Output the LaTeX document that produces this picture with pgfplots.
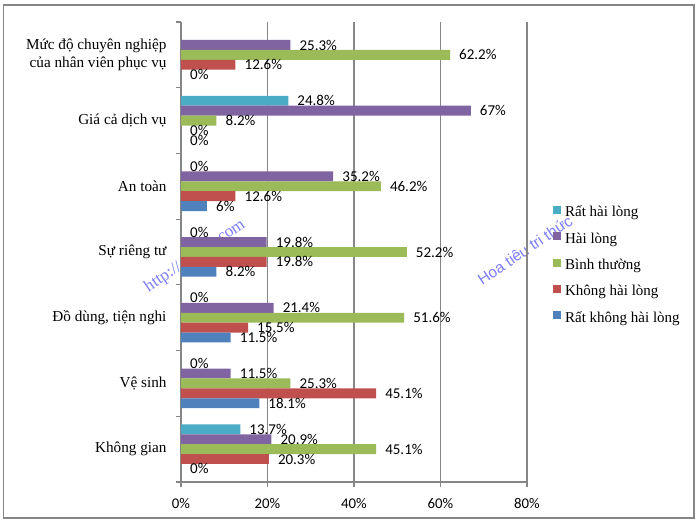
\documentclass[border=0pt]{standalone}
\usepackage{fontspec}
\setmainfont{Liberation Serif}
\newfontfamily\calib{Carlito}
\newfontfamily\wmsans{Liberation Sans}
\usepackage{pgfplots}
\pgfplotsset{compat=1.18}

\definecolor{cRHL}{RGB}{75,172,198}
\definecolor{cHL}{RGB}{128,100,162}
\definecolor{cBT}{RGB}{155,187,89}
\definecolor{cKHL}{RGB}{192,80,77}
\definecolor{cRKHL}{RGB}{79,129,189}
\definecolor{gridc}{RGB}{134,134,134}
\definecolor{wm}{RGB}{125,125,250}

\begin{document}
\begin{tikzpicture}[x=1bp,y=1bp]
\useasboundingbox (0,0) rectangle (700,526);
\fill[white] (0,0) rectangle (700,526);
% faint watermarks behind the plot
\node[text=wm, rotate=34, font=\fontsize{17bp}{17bp}\selectfont] at (195,270) {http:// ditiep.com};
\node[text=wm, rotate=34, font=\wmsans\fontsize{15.5bp}{16bp}\selectfont] at (525,276) {Hoa tiêu tri thức};
\begin{axis}[
  at={(181bp,44bp)}, anchor=south west,
  scale only axis, width=346bp, height=460bp,
  xbar, bar width=9.9bp,
  xmin=0, xmax=80, ymin=-0.5, ymax=6.5, y dir=reverse,
  axis x line*=bottom, axis y line*=left,
  axis line style={gridc, line width=1.1bp},
  xtick={0,20,40,60,80},
  xticklabels={0\%,20\%,40\%,60\%,80\%},
  xticklabel style={font=\calib\fontsize{14.8bp}{14.8bp}\selectfont, yshift=-8bp},
  xmajorgrids, major grid style={gridc, line width=1.1bp},
  tick align=outside, major tick length=5bp,
  tick style={gridc, line width=1.1bp},
  ytick={-0.5,0.5,...,6.5}, yticklabels={},
  extra y ticks={0,1,2,3,4,5,6},
  extra y tick labels={{Mức độ chuyên nghiệp\\của nhân viên phục vụ},{Giá cả dịch vụ},{An toàn},{Sự riêng tư},{Đồ dùng, tiện nghi},{Vệ sinh},{Không gian}},
  extra y tick style={grid=none, major tick length=0pt, tick style={draw=none},
    yticklabel style={font=\fontsize{15.2bp}{18.3bp}\selectfont, align=right, xshift=-11bp}},
  point meta=x,
  /pgf/number format/assume math mode=true,
  nodes near coords={\pgfmathprintnumber{\pgfplotspointmeta}\%},
  nodes near coords style={font=\calib\fontsize{15bp}{15bp}\selectfont,
    anchor=west, inner sep=0pt, xshift=9bp, text=black},
  legend style={at={(axis description cs:1.075,0.601)}, anchor=north west,
    draw=none, fill=none, inner sep=0pt, row sep=12.4bp,
    font=\fontsize{15bp}{15bp}\selectfont,
    nodes={inner sep=0pt, text height=10bp, text depth=3bp},
    /tikz/every odd column/.append style={column sep=4bp}},
  legend cell align=left,
  legend image code/.code={\fill[#1] (0bp,-0.5bp) rectangle (8bp,7.5bp);},
]
\addplot[fill=cRHL, draw=none, bar shift=19.8bp]
  coordinates {(24.8,1) (0,2) (0,3) (0,4) (0,5) (13.7,6)};
\addplot[fill=cHL, draw=none, bar shift=9.9bp]
  coordinates {(25.3,0) (67,1) (35.2,2) (19.8,3) (21.4,4) (11.5,5) (20.9,6)};
\addplot[fill=cBT, draw=none, bar shift=0bp]
  coordinates {(62.2,0) (8.2,1) (46.2,2) (52.2,3) (51.6,4) (25.3,5) (45.1,6)};
\addplot[fill=cKHL, draw=none, bar shift=-9.9bp]
  coordinates {(12.6,0) (0,1) (12.6,2) (19.8,3) (15.5,4) (45.1,5) (20.3,6)};
\addplot[fill=cRKHL, draw=none, bar shift=-19.8bp]
  coordinates {(0,0) (0,1) (6,2) (8.2,3) (11.5,4) (18.1,5) (0,6)};
\legend{Rất hài lòng, Hài lòng, Bình thường, Không hài lòng, Rất không hài lòng}
\end{axis}
\draw[gridc, line width=1.3bp] (3.5,8) rectangle (694,521);
\end{tikzpicture}
\end{document}
